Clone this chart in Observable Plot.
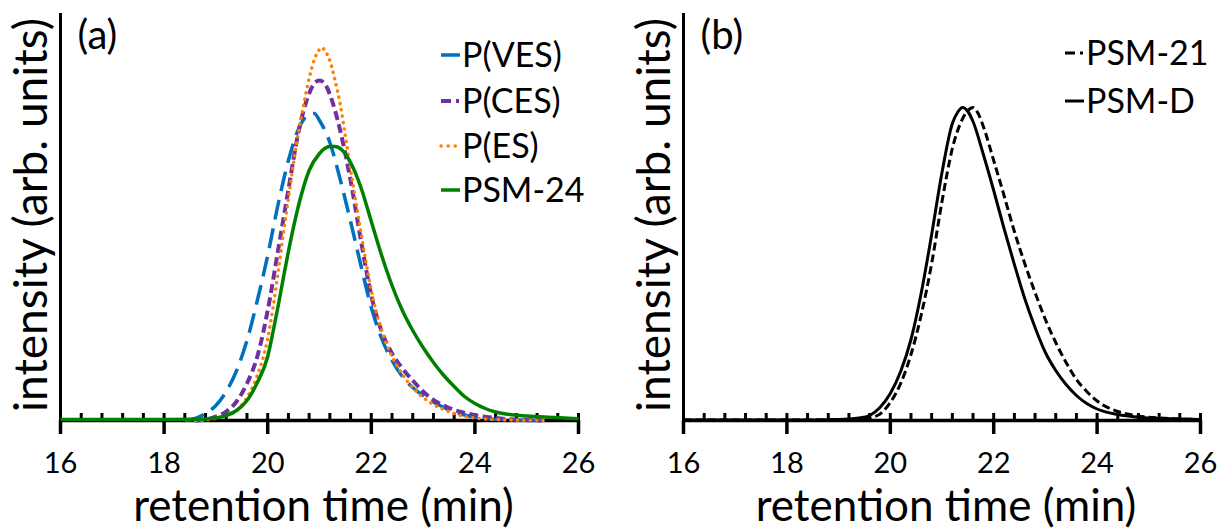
<!DOCTYPE html>
<html><head><meta charset="utf-8">
<script src="https://cdn.jsdelivr.net/npm/d3@7"></script>
<script src="https://cdn.jsdelivr.net/npm/@observablehq/plot@0.6"></script>
<style>
body{margin:0;background:#fff;}
#wrap{display:flex;width:1222px;height:529px;overflow:hidden;}
svg{display:block;}
</style></head><body><div id="wrap"></div>
<script>
const FONT = "Lato, 'Open Sans', sans-serif";

// axis ticks
const majorTicks = [16, 18, 20, 22, 24, 26];
const minorTicks = [16.4,16.8,17.2,17.6,18.4,18.8,19.2,19.6,20.4,20.8,21.2,21.6,22.4,22.8,23.2,23.6,24.4,24.8,25.2,25.6];
const xTitle = "retention time (min)";
const yTitle = "intensity (arb. units)";
const panelLabels = ["(a)", "(b)"];

// panel (a) series
const vesT = [18.4,18.6,18.8,19.0,19.2,19.4,19.6,19.8,20.0,20.2,20.4,20.6,20.8,20.9,21.0,21.2,21.4,21.6,21.8,22.0,22.2,22.4,22.6,22.8,23.0,23.2,23.4,23.6,23.8,24.0,24.4,24.8,25.3];
const vesH = [0,2,7,15,29,50,80,120,165,216,260,292,306,307,300,278,241,199,155,113,82,60,44,33,25,18.5,13,8.5,5.5,3.3,1.2,0.5,0];

const cesT = [18.6,18.8,19.0,19.2,19.4,19.6,19.8,20.0,20.2,20.4,20.6,20.8,20.9,21.0,21.1,21.2,21.3,21.4,21.6,21.8,22.0,22.2,22.4,22.6,22.8,23.0,23.2,23.4,23.6,23.8,24.0,24.4,24.8,25.3];
const cesH = [0,1,4,9,19,37,64,110,170,231,290,327,337,340,337,326,310,290,240,180,125,89,67,52,40,29,20.5,15,10.5,7.6,5.3,2.5,0.8,0];

const esT = [18.6,19.0,19.2,19.4,19.6,19.8,20.0,20.1,20.2,20.3,20.4,20.5,20.6,20.7,20.8,20.9,21.0,21.05,21.1,21.2,21.3,21.4,21.5,21.6,21.7,21.8,21.9,22.0,22.2,22.4,22.6,22.8,23.0,23.2,23.4,23.6,23.8,24.0,24.4,24.8,25.4];
const esH = [0,2,5,10,23,45,82,112,148,186,222,258,290,317,342,361,371,373,370,360,340,316,284,251,219,188,158,130,90,64,46,33,23,16,11,7,4,2.5,1,0.5,0];

const psm24T = [16,17,18,18.6,19.0,19.2,19.4,19.6,19.8,20.0,20.1,20.2,20.3,20.4,20.6,20.8,21.0,21.1,21.2,21.3,21.4,21.6,21.8,22.0,22.2,22.4,22.6,22.8,23.0,23.2,23.4,23.6,23.8,24.0,24.2,24.4,24.6,24.8,25.0,25.4,25.8,26.0];
const psm24H = [1,1,1,1.2,2.5,5,10,20,38,64,88,114,142,169,216,250,267,272,274,274,272,258,233,199,165,135,110,90,73,58,45,34,24,17,12,8.5,6.5,5.3,4.5,3.3,2.3,1.8];

// panel (b) series
const psm21T = [16,18,19,19.5,19.75,20.0,20.2,20.4,20.6,20.8,21.0,21.2,21.4,21.5,21.6,21.7,21.8,22.0,22.2,22.4,22.6,22.8,23.0,23.2,23.4,23.6,23.8,24.0,24.4,24.8,25.2,25.6,26.0];
const psm21H = [0.5,0.5,0.8,2,5,18,37,66,106,157,219,272,302,310,313,307,294,260,225,189,157,128,101,78,58,41,29,19.5,9,4.5,2.5,1.5,1];

const psmDT = [16,18,19,19.4,19.6,19.8,20.0,20.2,20.4,20.6,20.8,21.0,21.2,21.3,21.4,21.5,21.6,21.8,22.0,22.2,22.4,22.6,22.8,23.0,23.2,23.4,23.6,23.8,24.0,24.4,24.8,25.2,25.6,26.0];
const psmDH = [0.5,0.5,1,2.5,5,13,27,49,81,128,186,248,297,308,313,309,299,266,230,192,156,122,93,68,50,36,25,17,11.5,6,3.3,2,1.5,1];

const seriesA = [
  {name: "P(VES)", t: vesT, h: vesH, color: "#0070C0", w: 3.5, dash: "20,9", cap: "butt", lDash: null, lCap: "butt"},
  {name: "P(CES)", t: cesT, h: cesH, color: "#7030A0", w: 4, dash: "9,4.5", cap: "butt", lDash: "10,5,3,30", lCap: "butt"},
  {name: "P(ES)", t: esT, h: esH, color: "#FF8000", w: 3.5, dash: "0.1,6.3", cap: "round", lDash: "0.1,7", lCap: "round"},
  {name: "PSM-24", t: psm24T, h: psm24H, color: "#008000", w: 3.5, dash: null, cap: "butt", lDash: null, lCap: "butt"}
];
const seriesB = [
  {name: "PSM-21", t: psm21T, h: psm21H, color: "#000000", w: 3, dash: "8,4", cap: "butt", lDash: "10,5,3,30", lCap: "butt"},
  {name: "PSM-D", t: psmDT, h: psmDH, color: "#000000", w: 3, dash: null, cap: "butt", lDash: null, lCap: "butt"}
];

function panel(series, label, marginLeft, marginRight, legendX, legendYs) {
  const ticksAll = minorTicks.concat(majorTicks);
  const marks = [
    Plot.ruleY([0], {stroke: "black", strokeWidth: 3.5}),
    Plot.ruleX([16], {stroke: "black", strokeWidth: 3}),
    Plot.ruleX(ticksAll, {x: d => d, y1: () => 0, y2: () => 0, insetTop: -7, stroke: "black", strokeWidth: 3}),
    Plot.ruleX(majorTicks, {x: d => d, y1: () => 0, y2: () => 0, insetBottom: -14, stroke: "black", strokeWidth: 3.5}),
    ...series.map(s => Plot.line(s.t.map((t, i) => ({t, h: s.h[i]})), {
      x: "t", y: "h", stroke: s.color, strokeWidth: s.w,
      strokeDasharray: s.dash || undefined, strokeLinecap: s.cap, strokeLinejoin: "round", curve: "monotone-x"
    })),
    Plot.axisX({ticks: majorTicks, tickSize: 0, tickPadding: 32, fontSize: 29, fontFamily: FONT, fill: "black", label: null, tickFormat: d => String(d)}),
    Plot.text([xTitle], {text: d => d, frameAnchor: "bottom", dx: 4, dy: 86, fontSize: 44, fontFamily: FONT, fill: "black", textAnchor: "middle", lineAnchor: "middle"}),
    Plot.text([yTitle], {text: d => d, frameAnchor: "left", dx: -28, dy: -2, rotate: -90, fontSize: 46, fontFamily: FONT, fill: "black", textAnchor: "middle", lineAnchor: "middle"}),
    Plot.text([label], {text: d => d, frameAnchor: "top-left", dx: 17, dy: 23, textAnchor: "start", lineAnchor: "middle", fontSize: 40, fontFamily: FONT, fill: "black"})
  ];
  const svg = Plot.plot({
    width: 611, height: 529,
    marginLeft, marginRight, marginTop: 13, marginBottom: 109,
    x: {domain: [16, 26]},
    y: {domain: [0, 407], axis: null},
    style: {fontFamily: FONT, background: "white", color: "black", overflow: "visible"},
    marks
  });
  const g = d3.select(svg).append("g").attr("text-anchor", "start");
  series.forEach((s, i) => {
    const ln = g.append("line")
      .attr("x1", legendX).attr("x2", legendX + 19)
      .attr("y1", legendYs[i]).attr("y2", legendYs[i])
      .attr("stroke", s.color).attr("stroke-width", s.w)
      .attr("stroke-linecap", s.lCap);
    if (s.lDash) ln.attr("stroke-dasharray", s.lDash);
    g.append("text").attr("x", legendX + 21).attr("y", legendYs[i]).attr("dy", "0.36em")
      .attr("text-anchor", "start")
      .attr("font-size", 34).attr("font-family", FONT).attr("fill", "black").text(s.name);
  });
  return svg;
}

const wrap = document.getElementById("wrap");
wrap.appendChild(panel(seriesA, panelLabels[0], 60, 33, 441, [55, 101, 146, 190]));
wrap.appendChild(panel(seriesB, panelLabels[1], 72, 22, 1065 - 611, [53, 101]));
</script></body></html>
